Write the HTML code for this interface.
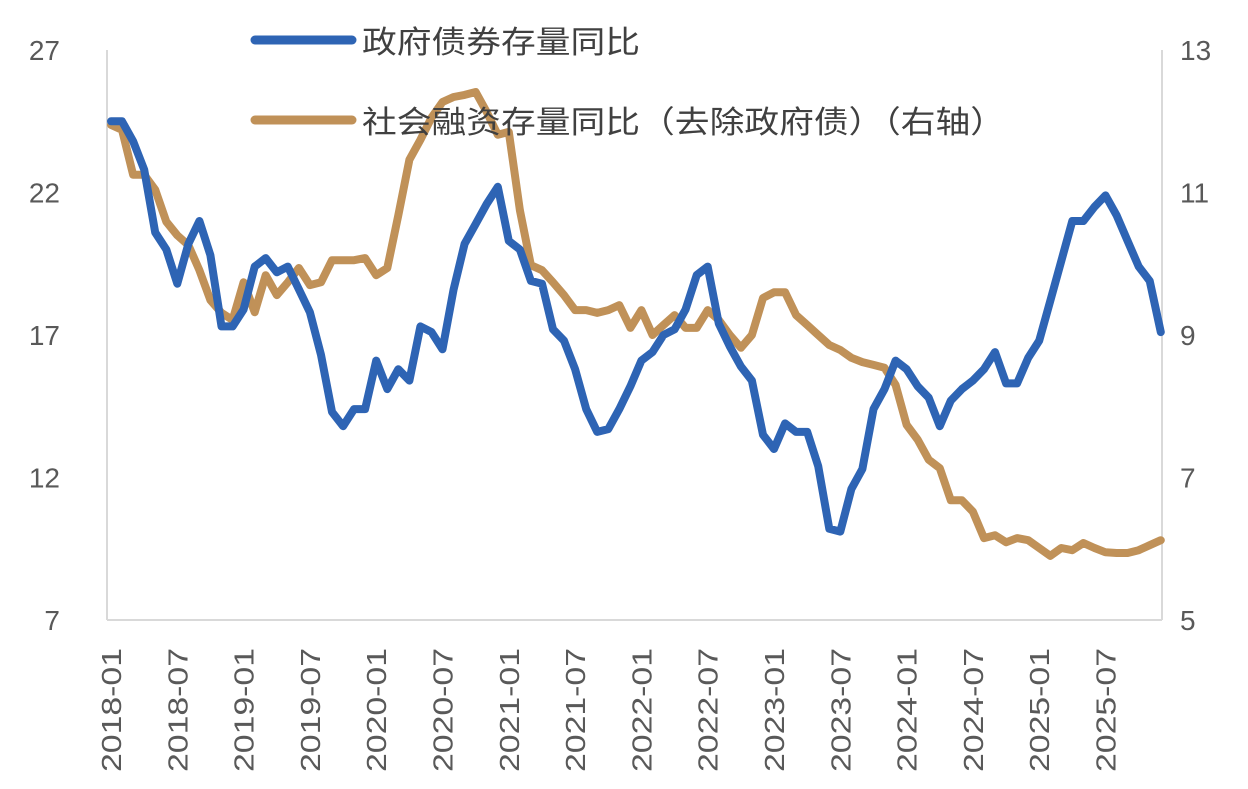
<!DOCTYPE html>
<html><head><meta charset="utf-8"><style>
body{margin:0;background:#fff;}
svg{display:block;}
text{font-family:"Liberation Sans","Noto Sans CJK SC",sans-serif;fill:#595959;}
</style></head><body>
<svg id="chart" width="1248" height="789">
<g id="axes"></g><g id="series"></g>
<g>
<line x1="255" y1="40" x2="352" y2="40" stroke="#2e64b4" stroke-width="9" stroke-linecap="round"/>
<text x="362" y="53" font-size="31" textLength="278" lengthAdjust="spacingAndGlyphs" style="fill:#404040">政府债券存量同比</text>
<line x1="255" y1="120" x2="352" y2="120" stroke="#c09158" stroke-width="9" stroke-linecap="round"/>
<text x="362" y="133" font-size="31" textLength="643" lengthAdjust="spacingAndGlyphs" style="fill:#404040">社会融资存量同比（去除政府债）（右轴）</text>
</g>
</svg>
<script>
const leftTicks=[7,12,17,22,27];
const rightTicks=[5,7,9,11,13];
const gov=[24.5,24.5,23.8,22.8,20.6,20.0,18.8,20.2,21.0,19.8,17.3,17.3,17.9,19.4,19.7,19.2,19.4,18.6,17.8,16.3,14.3,13.8,14.4,14.4,16.1,15.1,15.8,15.4,17.3,17.1,16.5,18.6,20.2,20.9,21.6,22.2,20.3,20.0,18.9,18.8,17.2,16.8,15.8,14.4,13.6,13.7,14.4,15.2,16.1,16.4,17.0,17.2,17.9,19.1,19.4,17.4,16.6,15.9,15.4,13.5,13.0,13.9,13.6,13.6,12.4,10.2,10.1,11.6,12.3,14.4,15.1,16.1,15.8,15.2,14.8,13.8,14.7,15.1,15.4,15.8,16.4,15.3,15.3,16.2,16.8,18.2,19.6,21.0,21.0,21.5,21.9,21.2,20.3,19.4,18.9,17.1];
const tsf=[11.95,11.88,11.25,11.25,11.04,10.59,10.4,10.26,9.91,9.49,9.31,9.21,9.74,9.32,9.84,9.56,9.74,9.94,9.7,9.74,10.05,10.05,10.05,10.08,9.84,9.94,10.68,11.46,11.74,12.05,12.27,12.34,12.37,12.41,12.13,11.81,11.85,10.75,9.98,9.91,9.74,9.56,9.35,9.35,9.31,9.35,9.42,9.1,9.35,9.0,9.14,9.28,9.1,9.1,9.35,9.21,9.0,8.82,9.0,9.52,9.6,9.6,9.28,9.14,9.0,8.86,8.79,8.68,8.62,8.58,8.54,8.3,7.74,7.53,7.25,7.13,6.68,6.68,6.52,6.15,6.19,6.09,6.15,6.12,6.01,5.9,6.01,5.98,6.08,6.01,5.95,5.94,5.94,5.98,6.05,6.12];
const startYear=2018;
const NS='http://www.w3.org/2000/svg';
const X0=111,DX=11.05,Y0=620,Y1=50;
const x=i=>X0+i*DX;
const yL=v=>Y0-(v-7)/(27-7)*(Y0-Y1);
const yR=v=>Y0-(v-5)/(13-5)*(Y0-Y1);
function mk(tag,attrs,parent){const e=document.createElementNS(NS,tag);for(const k in attrs)e.setAttribute(k,attrs[k]);parent.appendChild(e);return e;}
const axes=document.getElementById('axes'),series=document.getElementById('series');
let e;
e=mk('line',{x1:107,y1:50,x2:107,y2:620,stroke:'#d9d9d9','stroke-width':2},axes);


e=mk('line',{x1:1162,y1:50,x2:1162,y2:620,stroke:'#d9d9d9','stroke-width':2},axes);


e=mk('line',{x1:107,y1:620,x2:1162,y2:620,stroke:'#d9d9d9','stroke-width':2},axes);


leftTicks.forEach(v=>{const t=mk('text',{x:60,y:yL(v)+10,'font-size':28,'text-anchor':'end'},axes);t.textContent=v;

});
rightTicks.forEach(v=>{const t=mk('text',{x:1180,y:yR(v)+10,'font-size':28},axes);t.textContent=v;

});
for(let i=0;i<gov.length;i+=6){const yr=startYear+Math.floor(i/12),m=(i%12)+1;
const lbl=yr+'-'+(m<10?'0':'')+m;const cx=x(i)+10;
const t=mk('text',{x:0,y:0,'font-size':28,textLength:124,lengthAdjust:'spacingAndGlyphs',transform:`translate(${cx},772) rotate(-90)`},axes);t.textContent=lbl;

}
const pts=(arr,f)=>arr.map((v,i)=>x(i).toFixed(1)+','+f(v).toFixed(1)).join(' ');
e=mk('polyline',{points:pts(tsf,yR),fill:'none',stroke:'#c09158','stroke-width':8,'stroke-linejoin':'round','stroke-linecap':'round'},series);


e=mk('polyline',{points:pts(gov,yL),fill:'none',stroke:'#2e64b4','stroke-width':8,'stroke-linejoin':'round','stroke-linecap':'round'},series);


</script>
</body></html>
